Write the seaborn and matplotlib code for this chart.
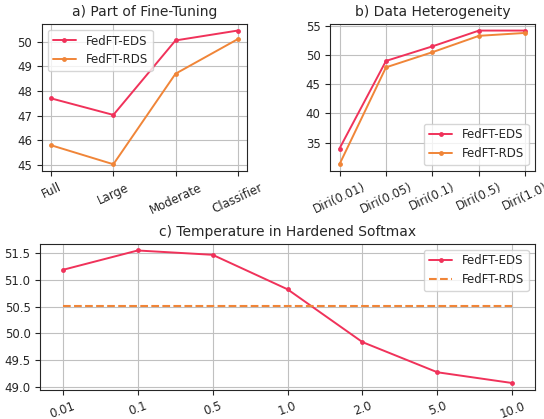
import matplotlib
matplotlib.use("Agg")
import matplotlib.pyplot as plt
import pandas as pd
import seaborn as sns

# data
parts = ["Full", "Large", "Moderate", "Classifier"]
parts_eds = [47.7, 47.03, 50.05, 50.45]
parts_rds = [45.8, 45.03, 48.7, 50.1]

diri = ["Diri(0.01)", "Diri(0.05)", "Diri(0.1)", "Diri(0.5)", "Diri(1.0)"]
diri_eds = [34.0, 49.0, 51.5, 54.2, 54.2]
diri_rds = [31.3, 47.9, 50.5, 53.3, 53.8]

temps = ["0.01", "0.1", "0.5", "1.0", "2.0", "5.0", "10.0"]
temp_eds = [51.18, 51.54, 51.46, 50.82, 49.84, 49.28, 49.08]
temp_rds = [50.51] * len(temps)

red = "#f0325a"
orange = "#f08538"

sns.set_style("ticks")
plt.rcParams["font.family"] = ["DejaVu Sans"]

fig = plt.figure(figsize=(5.44, 4.19), dpi=100)
ax1 = fig.add_axes([0.077, 0.592, 0.377, 0.351])
ax2 = fig.add_axes([0.607, 0.592, 0.376, 0.351])
ax3 = fig.add_axes([0.074, 0.07, 0.909, 0.348])


def draw(ax, labels, eds, rds, rds_dashed=False, rot=25):
    df = pd.DataFrame({"x": range(len(labels)), "eds": eds, "rds": rds})
    sns.lineplot(data=df, x="x", y="eds", ax=ax, color=red, marker=".",
                 markersize=7, markeredgewidth=0, linewidth=1.4, label="FedFT-EDS")
    if rds_dashed:
        sns.lineplot(data=df, x="x", y="rds", ax=ax, color=orange, linestyle="--",
                     linewidth=1.5, label="FedFT-RDS")
    else:
        sns.lineplot(data=df, x="x", y="rds", ax=ax, color=orange, marker=".",
                     markersize=7, markeredgewidth=0, linewidth=1.4, label="FedFT-RDS")
    ax.set_xticks(range(len(labels)))
    ax.set_xticklabels(labels, rotation=rot)
    ax.set_xlabel("")
    ax.set_ylabel("")
    ax.grid(True, color="#c0c0c0", linewidth=0.8)
    ax.tick_params(labelsize=8.5)
    for s in ax.spines.values():
        s.set_visible(True)


draw(ax1, parts, parts_eds, parts_rds)
ax1.set_title("a) Part of Fine-Tuning", fontsize=10)
ax1.legend(loc="upper left", fontsize=8.5)

draw(ax2, diri, diri_eds, diri_rds)
ax2.set_title("b) Data Heterogeneity", fontsize=10)
ax2.legend(loc="lower right", fontsize=8.5)

draw(ax3, temps, temp_eds, temp_rds, rds_dashed=True, rot=20)
ax3.set_title("c) Temperature in Hardened Softmax", fontsize=10)
ax3.legend(loc="upper right", fontsize=8.5)

fig.savefig("out.png", dpi=100)
